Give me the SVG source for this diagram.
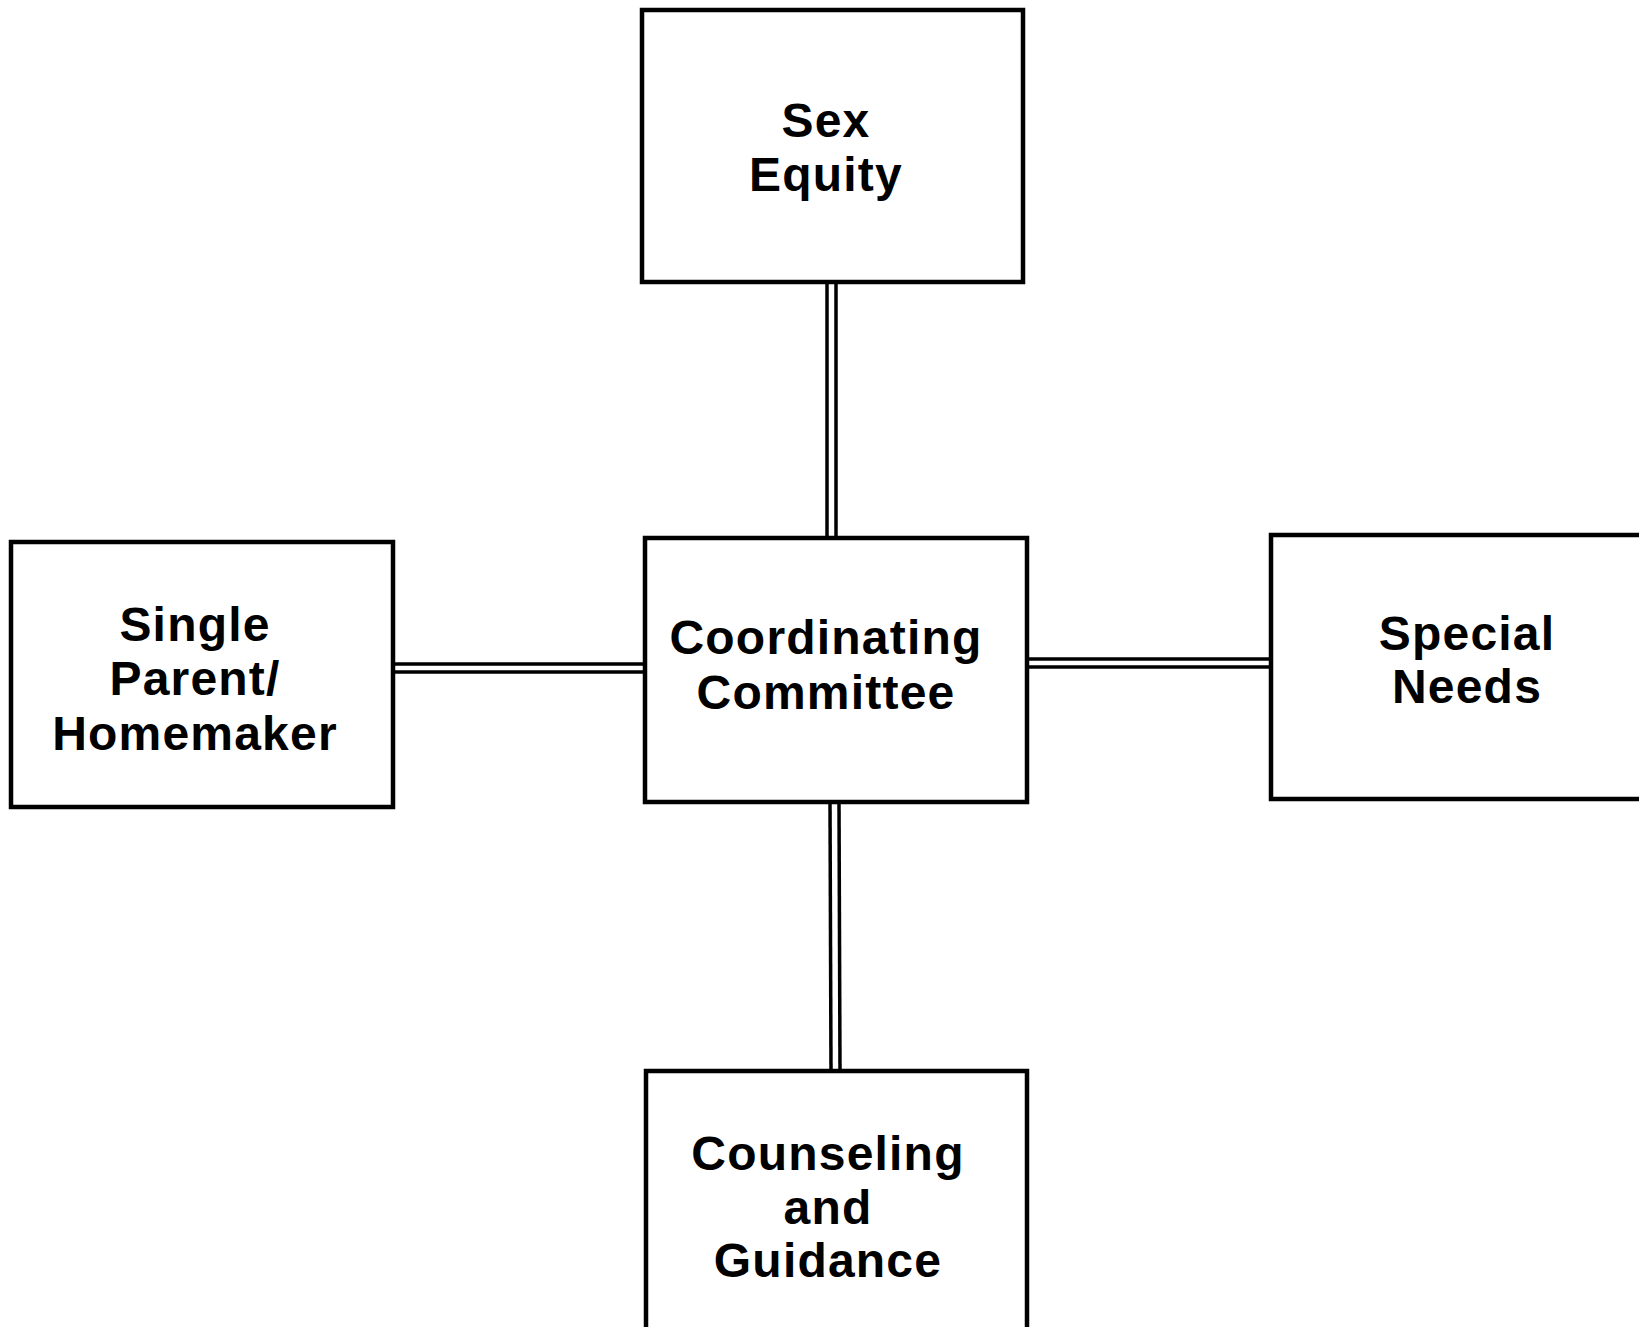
<svg xmlns="http://www.w3.org/2000/svg" width="1639" height="1327" viewBox="0 0 1639 1327">
<style>
.box{fill:#fff;stroke:#000;stroke-width:4.5}
.lbl{font-family:"Liberation Sans",Arial,sans-serif;font-weight:bold;font-size:48px;fill:#000;text-anchor:middle;letter-spacing:1.2px}
.con{stroke:#000;stroke-width:3.5;fill:none}
</style>
<rect width="1639" height="1327" fill="#fff"/>
<g id="connectors">
<line class="con" x1="827" y1="282" x2="827" y2="538"/>
<line class="con" x1="836" y1="282" x2="836" y2="538"/>
<line class="con" x1="830" y1="802" x2="831" y2="1071"/>
<line class="con" x1="839" y1="802" x2="840" y2="1071"/>
<line class="con" x1="393" y1="664" x2="645" y2="664"/>
<line class="con" x1="393" y1="672" x2="645" y2="672"/>
<line class="con" x1="1027" y1="659" x2="1271" y2="659"/>
<line class="con" x1="1027" y1="667" x2="1271" y2="667"/>
</g>
<g id="sex-equity">
<rect class="box" x="642" y="10" width="381" height="272"/>
<text class="lbl" x="826" y="137">Sex</text>
<text class="lbl" x="826" y="191">Equity</text>
</g>
<g id="single-parent">
<rect class="box" x="11" y="542" width="382" height="265"/>
<text class="lbl" x="195" y="641">Single</text>
<text class="lbl" x="195" y="695">Parent/</text>
<text class="lbl" x="195" y="750">Homemaker</text>
</g>
<g id="coordinating">
<rect class="box" x="645" y="538" width="382" height="264"/>
<text class="lbl" x="826" y="654">Coordinating</text>
<text class="lbl" x="826" y="709">Committee</text>
</g>
<g id="special-needs">
<rect class="box" x="1271" y="535" width="380" height="264"/>
<text class="lbl" x="1467" y="650">Special</text>
<text class="lbl" x="1467" y="703">Needs</text>
</g>
<g id="counseling">
<rect class="box" x="646" y="1071" width="381" height="270"/>
<text class="lbl" x="828" y="1170">Counseling</text>
<text class="lbl" x="828" y="1224">and</text>
<text class="lbl" x="828" y="1277">Guidance</text>
</g>
</svg>
